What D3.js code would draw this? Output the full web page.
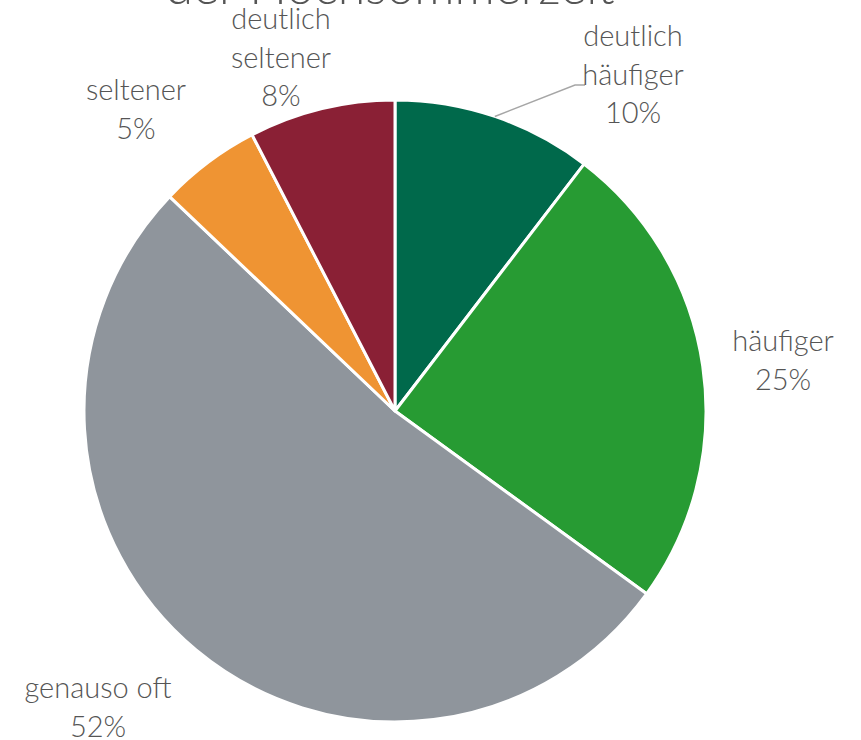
<!DOCTYPE html>
<html>
<head>
<meta charset="utf-8">
<script src="https://cdn.jsdelivr.net/npm/d3@7"></script>
<style>
  html, body { margin: 0; padding: 0; background: #fff; overflow: hidden; }
  svg text { font-family: Lato, "Open Sans", sans-serif; font-weight: 300; fill: #555555; }
</style>
</head>
<body>
<div id="chart"></div>
<script>
// data
var categories = ["deutlich häufiger", "häufiger", "genauso oft", "seltener", "deutlich seltener"];
var labelLines = [["deutlich", "häufiger"], ["häufiger"], ["genauso oft"], ["seltener"], ["deutlich", "seltener"]];
var shares = [10.4, 24.6, 52.1, 5.3, 7.6];
var percentLabels = ["10%", "25%", "52%", "5%", "8%"];
var colors = ["#00694b", "#279b33", "#8f959c", "#ef9433", "#8a2035"];
var title = "der Hochsommerzeit";

var width = 861, height = 740;
var cx = 395, cy = 411, radius = 311;

// where each label block is centred (x) and where its first line sits (y)
var labelPos = [[633, 46], [783, 351], [98, 698], [136, 100], [281, 29]];
var lineHeight = 38.5;

var svg = d3.select("#chart").append("svg")
    .attr("width", width)
    .attr("height", height);

svg.append("text")
    .attr("x", 390)
    .attr("y", 4)
    .attr("text-anchor", "middle")
    .style("font-size", "50px")
    .text(title);

var pie = d3.pie().sort(null).value(function (d) { return d; });
var arc = d3.arc().innerRadius(0).outerRadius(radius);
var arcs = pie(shares);

var g = svg.append("g").attr("transform", "translate(" + cx + "," + cy + ")");
g.selectAll("path")
    .data(arcs)
    .enter().append("path")
    .attr("d", arc)
    .attr("fill", function (d, i) { return colors[i]; })
    .attr("stroke", "#fff")
    .attr("stroke-width", 3)
    .attr("stroke-linejoin", "round");

// leader line for the first slice
var a0 = (arcs[0].startAngle + arcs[0].endAngle) / 2;
var p0 = [cx + Math.sin(a0) * radius, cy - Math.cos(a0) * radius];
svg.append("polyline")
    .attr("points", [p0, [575, 85], [585, 85]].map(function (p) { return p.join(","); }).join(" "))
    .attr("fill", "none")
    .attr("stroke", "#a6a6a6")
    .attr("stroke-width", 1.5);

categories.forEach(function (c, i) {
    var lines = labelLines[i].concat([percentLabels[i]]);
    var t = svg.append("text")
        .attr("text-anchor", "middle")
        .style("font-size", "29px");
    lines.forEach(function (l, j) {
        t.append("tspan")
            .attr("x", labelPos[i][0])
            .attr("y", labelPos[i][1] + j * lineHeight)
            .text(l);
    });
});
</script>
</body>
</html>
